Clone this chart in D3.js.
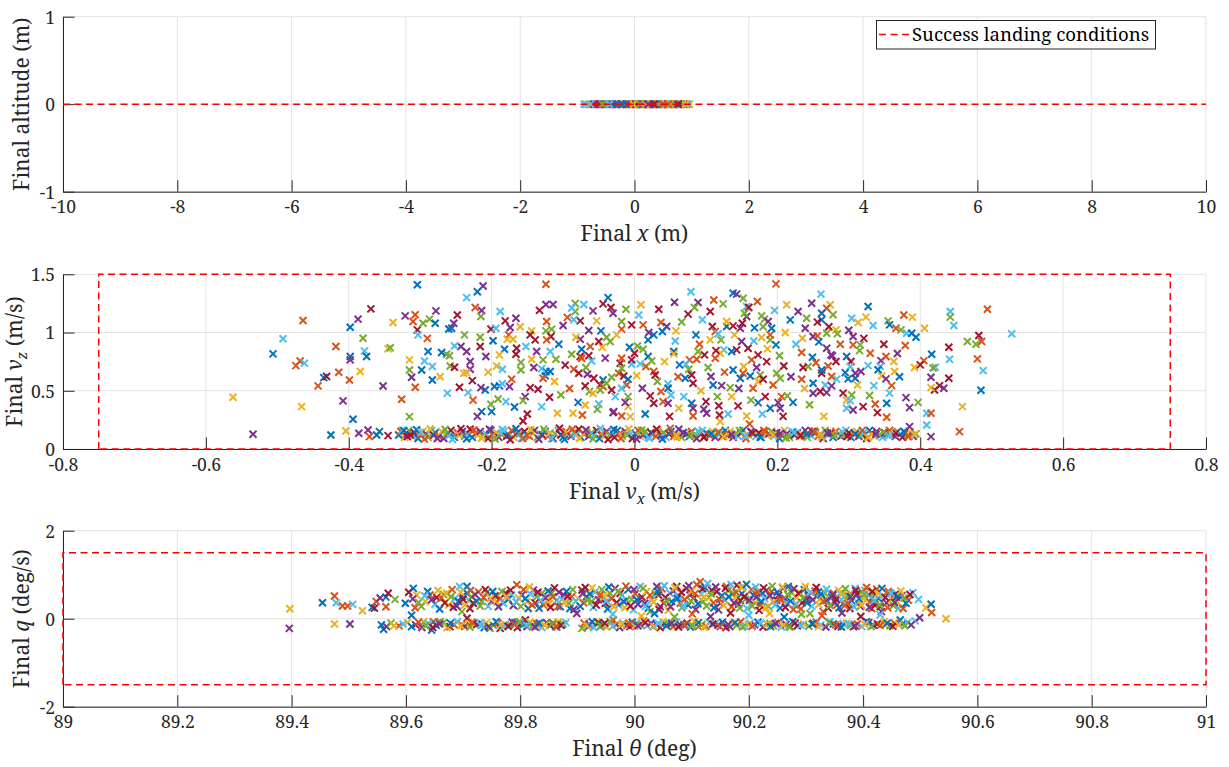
<!DOCTYPE html>
<html><head><meta charset="utf-8">
<script src="https://cdn.jsdelivr.net/npm/d3@7"></script>
<style>
body{margin:0;background:#fff;}
</style></head><body>
<svg id="fig" width="1229" height="767"></svg>
<script>
// ---------------- DATA ----------------
const seriesColors = ["#0072BD","#D95319","#EDB120","#7E2F8E","#77AC30","#4DBEEE","#A2142F"];

const xTicks1 = [-10,-8,-6,-4,-2,0,2,4,6,8,10];
const yTicks1 = [-1,0,1];
const xTicks2 = [-0.8,-0.6,-0.4,-0.2,0,0.2,0.4,0.6,0.8];
const yTicks2 = [0,0.5,1,1.5];
const xTicks3 = [89,89.2,89.4,89.6,89.8,90,90.2,90.4,90.6,90.8,91];
const yTicks3 = [-2,0,2];

const altitudeLimit = 0;
const vxLimits = [-0.75,0.75];
const vzLimits = [0,1.5];
const thetaLimits = [89,91];
const qLimits = [-1.5,1.5];

const finalX = [0.12,-0.41,0.96,0.33,-0.07,-0.88,0.58,-0.23,0.71,-0.62,0.05,0.44,-0.35,0.87,-0.15,0.26,-0.74,0.63,-0.02,-0.51,0.39,0.91,-0.29,0.17,-0.68,0.52,-0.11,0.78,-0.45,0.30,-0.81,0.08,0.67,-0.19,0.48,-0.57,0.22,0.83,-0.33,-0.04,0.55,-0.71,0.36,-0.25,0.74,0.14,-0.48,0.93,-0.60,0.27,-0.09,0.61,-0.38,0.42,-0.77,0.01,0.80,-0.53,0.19,-0.14,0.69,-0.85,0.34,-0.31,0.50,0.89,-0.64,0.10,-0.44,0.76,-0.21,0.59,-0.02,0.24,-0.56];

const vPoints = [
[-0.562,0.444,2],[-0.534,0.126,3],[-0.506,0.817,0],[-0.492,0.946,5],[-0.464,1.103,1],[-0.474,0.716,1],[-0.468,0.756,1],[-0.462,0.737,5],[-0.466,0.364,2],[-0.443,0.542,1],[-0.435,0.613,0],[-0.431,0.622,6],[-0.425,0.120,0],[-0.418,0.880,1],[-0.414,0.659,1],[-0.408,0.413,3],[-0.404,0.155,2],[-0.398,1.046,0],[-0.398,0.794,0],[-0.398,0.765,3],[-0.399,0.593,1],[-0.394,0.255,0],[-0.386,0.135,3],[-0.387,1.115,3],[-0.380,0.951,4],[-0.378,0.842,5],[-0.375,0.794,0],[-0.384,0.665,2],[-0.373,0.163,3],[-0.371,0.106,1],[-0.369,1.203,6],[-0.361,0.120,0],[-0.357,0.149,0],[-0.352,0.541,3],[-0.345,0.115,6],[-0.338,1.086,2],[-0.345,0.860,2],[-0.342,0.870,4],
[-0.321,1.143,3],[-0.307,1.152,1],[-0.310,1.095,1],[-0.304,1.023,6],[-0.303,0.98,5],[-0.296,1.080,4],[-0.287,1.115,4],[-0.278,1.186,3],[-0.279,1.080,0],[-0.260,1.031,0],[-0.256,1.037,0],[-0.253,1.080,3],[-0.223,1.215,1],[-0.214,1.189,3],[-0.215,1.138,4],[-0.201,1.029,6],[-0.194,1.037,5],[-0.181,1.10,6],[-0.166,1.123,3],[-0.174,1.043,3],[-0.176,0.98,1],[-0.170,0.943,2],[-0.178,0.943,2],[-0.165,0.865,6],[-0.166,0.814,6],[-0.182,0.857,0],[-0.189,0.808,2],[-0.193,0.713,2],[-0.185,0.685,5],[-0.144,1.014,2],[-0.146,0.98,6],[-0.139,0.937,6],[-0.124,1.014,4],[-0.116,1.029,4],[-0.117,0.966,6],[-0.123,0.937,1],[-0.123,1.095,1],[-0.137,0.837,3],[-0.144,0.771,2],[-0.159,0.742,4],[-0.159,0.679,4],[-0.128,0.765,4],[-0.118,0.837,5],[-0.110,0.771,4],[-0.124,0.665,0],[-0.118,0.665,0],[-0.130,0.69,5],[-0.125,0.628,0],[-0.128,0.607,1],[-0.135,0.513,6],[-0.146,0.527,6],[-0.153,0.450,3],[-0.156,0.415,4],[-0.119,0.444,6],[-0.103,0.464,4],[-0.130,0.364,5],[-0.108,0.307,2],[-0.086,0.307,2],[-0.073,0.292,1],[-0.069,0.378,2],[-0.050,0.387,5],[-0.030,0.312,6],[-0.156,0.241,6],[-0.180,0.407,5],[-0.191,0.43,4],[-0.201,0.384,4],[-0.209,0.507,0],[-0.215,0.527,3],[-0.200,0.321,0],[-0.214,0.321,0],[-0.233,0.484,5],[-0.227,0.587,6],[-0.230,0.685,3],[-0.235,0.656,2],[-0.239,0.650,2],[-0.230,0.751,3],[-0.235,0.837,3],[-0.243,0.880,3],[-0.252,0.885,5],[-0.263,0.814,4],[-0.259,0.80,4],[-0.270,0.828,0],[-0.258,0.713,4],[-0.252,0.702,6],[-0.245,0.53,6],[-0.216,0.96,4],[-0.216,0.88,6],[-0.208,0.794,3],[-0.189,0.542,0],[-0.196,0.536,0],[-0.175,0.536,3],[-0.185,0.56,5],[-0.283,0.708,5],[-0.298,0.679,0],[-0.315,0.679,4],[-0.315,0.765,2],[-0.312,0.616,3],[-0.307,0.530,1],[-0.294,0.756,5],[-0.289,0.837,0],[-0.283,0.593,0],[-0.326,0.427,1],[-0.315,0.278,4],[-0.323,0.158,0],[-0.318,0.106,6],[-0.299,0.143,5],
[-0.304,1.41,0],[-0.212,1.40,3],[-0.220,1.35,0],[-0.235,1.30,5],[-0.124,1.415,1],[-0.124,1.24,3],[-0.114,1.24,3],[-0.083,1.25,4],[-0.083,1.18,4],[-0.088,1.21,5],[-0.044,1.246,6],[-0.033,1.215,6],[-0.030,1.166,3],[-0.058,1.186,3],[-0.094,1.13,1],[-0.076,1.10,6],[-0.085,1.11,5],[0.009,1.238,2],[0.056,1.26,3],[0.079,1.35,5],[0.089,1.258,3],[0.084,1.215,4],[0.075,1.158,6],[0.106,1.18,6],[0.124,1.246,4],[0.138,1.338,0],[0.143,1.33,3],[0.152,1.295,4],[0.172,1.266,1],[0.198,1.418,1],[0.213,1.238,2],[0.218,1.109,0],[0.157,1.223,5],[0.160,1.215,6],[0.157,1.138,3],[0.154,1.166,4],[0.178,1.143,4],[0.182,1.115,4],[0.187,1.095,3],[0.192,1.037,0],[0.180,1.05,4],[0.138,1.057,6],[0.129,1.052,0],[0.148,1.037,3],[0.109,1.052,6],[0.113,1.009,1],[0.117,0.989,5],[0.106,0.937,2],[0.121,0.937,4],[0.129,1.095,2],[0.037,1.086,1],[0.045,1.052,3],[0.039,1.009,0],[0.027,0.98,0],[0.019,0.937,0],[0.058,1.014,2],[0.057,0.928,5],[0.055,0.837,0],[0.055,0.817,2],[0.077,0.765,1],[0.087,0.771,1],[0.089,0.837,4],[0.091,0.90,1],[0.072,0.728,5],[0.063,0.722,0],[0.076,0.685,4],[0.080,0.636,6],[0.071,0.607,0],[0.082,0.564,6],[0.047,0.559,5],[0.047,0.521,0],[0.051,0.464,5],[0.037,0.493,1],[0.027,0.665,1],[0.029,0.636,6],[0.016,0.708,1],[0.008,0.731,5],[-0.004,0.728,5],[-0.004,0.765,6],[0.000,0.822,6],[-0.007,0.874,0],[0.004,0.885,4],[0.012,0.857,4],[0.019,0.794,0],[0.024,0.756,4],[-0.004,1.066,6],[0.012,1.066,1],[-0.018,1.095,4],[-0.018,1.029,1],[-0.047,1.014,0],[-0.064,1.017,3],[-0.039,0.96,4],[-0.034,0.923,4],[-0.045,0.874,2],[-0.050,0.923,6],[-0.076,0.943,3],[-0.074,0.857,0],[-0.088,0.814,4],[-0.076,0.794,6],[-0.064,0.80,6],[-0.074,0.779,1],[-0.060,0.756,5],[-0.085,0.685,1],[-0.078,0.650,6],[-0.066,0.642,3],[-0.057,0.607,6],[-0.044,0.593,0],[-0.048,0.55,6],[-0.044,0.536,1],[-0.039,0.564,4],[-0.032,0.616,4],[-0.022,0.650,1],[-0.020,0.736,6],[-0.018,0.779,1],[-0.018,0.693,4],[-0.015,0.627,6],[-0.009,0.599,0],[-0.011,0.55,1],[-0.018,0.521,5],[-0.032,0.507,6],[-0.048,0.507,4],[-0.069,0.541,6],[-0.063,0.493,4],[-0.058,0.478,2],[-0.009,0.450,4],[-0.009,0.364,2],[-0.029,0.321,3],[-0.018,0.284,1],[-0.006,0.278,2],[0.011,0.521,3],[0.022,0.456,6],[0.027,0.393,6],[0.040,0.407,1],[0.047,0.393,3],[0.062,0.35,2],[0.080,0.393,0],[0.082,0.35,3],[0.082,0.284,1],[0.100,0.407,6],[0.097,0.341,3],[0.101,0.307,3],[0.118,0.372,6],[0.120,0.235,2],[0.119,0.292,6],[0.107,0.622,3],[0.110,0.55,0],[0.122,0.544,3],[0.134,0.527,4],[0.136,0.45,2],[0.145,0.37,6],[0.157,0.284,2],[0.161,0.215,1],[0.166,0.521,1],[0.173,0.579,2],[0.176,0.636,4],[0.180,0.599,6],[0.183,0.45,6],[0.173,0.398,0],[0.190,0.35,0],[0.201,0.398,3],[0.204,0.35,3],[0.206,0.45,1],[0.214,0.456,4],[0.199,0.65,4],[0.204,0.607,4],[0.209,0.713,6],[0.185,0.75,6],[0.173,0.808,6],[0.164,0.765,1],[0.153,0.708,2],[0.152,0.65,1],[0.148,0.607,0],[0.138,0.679,0],[0.162,0.627,0],[0.159,0.865,6],[0.150,0.923,3],[0.167,0.928,5],[0.178,0.957,2],[0.190,0.937,4],[0.190,0.98,1],[0.198,0.894,0],[0.143,0.851,6],[0.136,0.837,0],[0.125,0.851,5],[0.120,0.822,2],[0.114,0.845,6],[0.113,0.779,1],[0.098,0.808,6],
[0.261,1.330,5],[0.248,1.252,3],[0.274,1.238,2],[0.269,1.209,1],[0.278,1.152,4],[0.262,1.166,0],[0.262,1.109,0],[0.256,1.089,6],[0.241,1.123,4],[0.239,1.037,3],[0.235,0.951,2],[0.250,0.966,3],[0.256,0.971,1],[0.269,0.994,4],[0.282,1.023,2],[0.284,0.989,4],[0.304,1.123,5],[0.313,1.086,2],[0.324,1.132,2],[0.327,1.223,0],[0.306,0.966,3],[0.306,0.894,1],[0.316,0.894,4],[0.315,0.845,4],[0.330,0.822,1],[0.355,1.10,4],[0.357,1.066,0],[0.366,1.037,1],[0.373,1.023,4],[0.381,0.994,5],[0.388,0.994,0],[0.394,0.96,0],[0.389,1.132,2],[0.406,1.037,2],[0.379,0.888,1],[0.269,0.865,3],[0.275,0.808,3],[0.277,0.80,3],[0.271,0.713,1],[0.276,0.622,1],[0.262,0.650,6],[0.262,0.679,0],[0.282,0.751,6],[0.297,0.794,0],[0.303,0.751,6],[0.302,0.708,5],[0.295,0.656,0],[0.299,0.602,0],[0.309,0.607,0],[0.309,0.650,3],[0.317,0.665,3],[0.327,0.716,5],[0.345,0.759,3],[0.352,0.794,1],[0.344,0.708,5],[0.346,0.628,2],[0.352,0.602,3],[0.363,0.751,2],[0.364,0.665,2],[0.360,0.544,1],[0.335,0.544,5],[0.249,0.788,0],[0.234,0.828,1],[0.243,0.708,4],[0.236,0.70,6],[0.234,0.599,1],[0.250,0.564,0],[0.267,0.55,5],[0.276,0.542,3],[0.260,0.493,6],[0.250,0.479,3],[0.269,0.484,3],[0.304,0.464,4],[0.297,0.421,2],[0.302,0.415,5],[0.297,0.35,5],[0.306,0.335,3],[0.320,0.364,6],[0.337,0.387,1],[0.340,0.312,6],[0.353,0.393,0],[0.353,0.272,1],[0.380,0.441,3],[0.385,0.355,3],[0.385,0.192,3],[0.409,0.307,5],[0.415,0.307,1],[0.409,0.206,5],[0.415,0.106,3],[0.416,0.814,0],[0.405,0.759,1],[0.400,0.722,6],[0.421,0.702,5],[0.418,0.695,4],[0.415,0.616,3],[0.420,0.507,6],[0.415,0.527,2],[0.427,0.544,6],[0.433,0.521,3],[0.440,0.874,6],[0.441,0.771,5],[0.440,0.607,6],[0.442,1.18,5],[0.442,1.132,4],[0.447,1.060,5],[0.459,0.364,2],[0.455,0.149,1],[0.466,0.923,4],[0.478,0.90,4],[0.486,0.923,1],[0.482,0.974,6],[0.480,0.774,1],[0.488,0.673,5],[0.485,0.504,0],[0.494,1.20,1],[0.528,0.989,5],
[-0.290,0.95,1],[-0.272,0.62,2],[-0.262,0.48,5],[-0.248,1.15,6],[-0.238,0.98,4],[-0.226,0.42,1],[-0.220,0.28,3],[-0.205,0.66,2],[-0.198,0.93,0],[-0.188,1.18,5],[-0.172,0.60,1],[-0.168,0.36,0],[-0.160,1.05,2],[-0.152,0.88,5],[-0.150,0.30,6],[-0.141,0.70,3],[-0.133,1.19,6],[-0.112,0.58,2],[-0.106,0.90,0],[-0.100,1.06,3],[-0.097,0.72,6],[-0.091,0.52,1],[-0.082,0.96,2],[-0.079,0.40,0],[-0.071,1.24,5],[-0.068,0.70,4],[-0.062,0.88,1],[-0.053,1.10,2],[-0.052,0.34,4],[-0.041,0.78,3],[-0.037,1.30,0],[-0.027,0.45,5],[-0.025,0.98,2],[-0.012,1.20,4],[-0.013,0.40,3],[0.003,0.63,2],[0.006,1.15,5],[0.015,0.30,0],[0.020,1.00,3],[0.032,0.58,4],[0.034,1.20,6],[0.042,0.75,2],[0.049,0.28,6],[0.061,0.62,1],[0.066,1.09,4],[0.069,0.45,5],[0.086,0.98,0],[0.093,0.50,2],[0.095,1.11,5],[0.103,0.70,4],[0.111,1.28,1],[0.116,0.45,4],[0.126,0.66,1],[0.131,0.30,5],[0.140,0.98,2],[0.146,0.52,3],[0.151,1.08,6],[0.163,0.42,4],[0.168,1.04,0],[0.171,0.70,3],[0.179,0.30,5],[0.186,0.86,2],[0.194,0.55,1],[0.196,1.19,5],[0.203,0.80,4],[0.208,0.28,6],[0.211,1.00,2],[0.219,0.62,3],[0.222,0.40,0],[0.226,0.90,5],[0.229,1.18,3],[0.238,0.52,2],[0.245,0.38,4],[0.254,0.74,1],[0.258,0.92,0],[0.265,0.28,2],[0.272,1.05,6],[0.283,0.60,5],[0.288,0.90,1],[0.292,0.48,6],[0.300,1.02,3],[0.312,0.55,2],[0.321,0.95,6],[0.329,0.46,4],[0.334,1.06,5],[0.341,0.68,0],[0.349,0.90,6],[0.357,0.48,5],[0.368,0.82,3],[0.371,0.62,0],[0.377,1.15,1],[0.392,0.70,2],[0.397,0.40,4]
];

const bandVx = [-0.330,-0.327,-0.322,-0.318,-0.316,-0.311,-0.308,-0.303,-0.300,-0.296,-0.292,-0.289,-0.284,-0.281,-0.279,-0.274,-0.270,-0.267,-0.263,-0.259,-0.257,-0.252,-0.248,-0.245,-0.241,-0.238,-0.233,-0.230,-0.227,-0.222,-0.219,-0.216,-0.212,-0.208,-0.205,-0.201,-0.198,-0.193,-0.190,-0.187,-0.183,-0.179,-0.176,-0.172,-0.169,-0.164,-0.161,-0.158,-0.154,-0.150,-0.147,-0.143,-0.140,-0.136,-0.132,-0.129,-0.125,-0.121,-0.118,-0.114,-0.111,-0.107,-0.103,-0.100,-0.096,-0.093,-0.089,-0.085,-0.082,-0.078,-0.075,-0.071,-0.067,-0.064,-0.060,-0.057,-0.053,-0.049,-0.046,-0.042,-0.039,-0.035,-0.031,-0.028,-0.024,-0.021,-0.017,-0.013,-0.010,-0.006,-0.003,0.001,0.005,0.008,0.012,0.015,0.019,0.023,0.026,0.030,0.033,0.037,0.041,0.044,0.048,0.051,0.055,0.059,0.062,0.066,0.069,0.073,0.077,0.080,0.084,0.087,0.091,0.095,0.098,0.102,0.105,0.109,0.113,0.116,0.120,0.123,0.127,0.131,0.134,0.138,0.141,0.145,0.149,0.152,0.156,0.159,0.163,0.167,0.170,0.174,0.177,0.181,0.185,0.188,0.192,0.195,0.199,0.203,0.206,0.210,0.213,0.217,0.221,0.224,0.228,0.231,0.235,0.239,0.242,0.246,0.249,0.253,0.257,0.260,0.264,0.267,0.271,0.275,0.278,0.282,0.285,0.289,0.293,0.296,0.300,0.303,0.307,0.311,0.314,0.318,0.321,0.325,0.329,0.332,0.336,0.339,0.343,0.347,0.350,0.354,0.357,0.361,0.365,0.368,0.372,0.375,0.379,0.383,0.386,0.390,0.394,
-0.325,-0.314,-0.305,-0.294,-0.286,-0.276,-0.265,-0.255,-0.243,-0.235,-0.225,-0.214,-0.203,-0.195,-0.185,-0.174,-0.166,-0.156,-0.145,-0.134,-0.127,-0.116,-0.105,-0.098,-0.087,-0.077,-0.068,-0.058,-0.048,-0.037,-0.029,-0.019,-0.008,0.003,0.010,0.021,0.031,0.039,0.050,0.060,0.068,0.079,0.089,0.097,0.107,0.118,0.125,0.136,0.147,0.155,0.165,0.176,0.183,0.194,0.204,0.212,0.223,0.233,0.241,0.252,0.262,0.270,0.280,0.291,0.298,0.309,0.319,0.327,0.338,0.348,0.356,0.366,0.377,0.384,0.392];
const bandVz = [0.12,0.15,0.10,0.13,0.16,0.11,0.14,0.09,0.12,0.15,0.13,0.10,0.16,0.12,0.14,0.11,0.15,0.09,0.13,0.12,0.16,0.10,0.14,0.12,0.15,0.11,0.13,0.17,0.10,0.14,0.12,0.15,0.11,0.13,0.09,0.16,0.12,0.14,0.10,0.13,0.15,0.11,0.12,0.16,0.10,0.14,0.13,0.09,0.15,0.12,0.11,0.14,0.16,0.10,0.13,0.12,0.15,0.11,0.14,0.09,0.13,0.16,0.12,0.10,0.15,0.13,0.11,0.14,0.12,0.17,0.10,0.13,0.15,0.11,0.14,0.12,0.16,0.09,0.13,0.11,0.15,0.12,0.14,0.10,0.16,0.13,0.11,0.15,0.12,0.14,0.09,0.13,0.16,0.11,0.12,0.15,0.10,0.14,0.13,0.11,0.16,0.12,0.14,0.10,0.13,0.15,0.11,0.12,0.17,0.10,0.14,0.13,0.11,0.15,0.12,0.09,0.14,0.16,0.11,0.13,0.12,0.15,0.10,0.14,0.13,0.11,0.16,0.12,0.15,0.10,0.13,0.11,0.14,0.16,0.09,0.12,0.15,0.13,0.11,0.14,0.10,0.16,0.12,0.13,0.15,0.11,0.14,0.09,0.12,0.16,0.13,0.10,0.15,0.12,0.14,0.11,0.13,0.16,0.10,0.12,0.15,0.14,0.11,0.13,0.09,0.16,0.12,0.14,0.10,0.15,0.13,0.11,0.12,0.16,0.14,0.10,0.13,0.15,0.11,0.12,0.14,0.09,0.16,0.13,0.11,0.15,0.12,0.10,0.14,0.13,0.16,0.12,0.11,0.15,0.13,0.10,0.14,0.12,0.15,0.11,0.13,0.16,0.12,
0.165,0.085,0.172,0.090,0.168,0.082,0.175,0.088,0.163,0.092,0.170,0.086,0.167,0.080,0.174,0.091,0.166,0.084,0.171,0.089,0.178,0.083,0.169,0.093,0.164,0.087,0.176,0.081,0.168,0.090,0.173,0.085,0.162,0.092,0.170,0.086,0.177,0.105,0.140,0.118,0.152,0.098,0.131,0.145,0.108,0.125,0.158,0.112,0.137,0.102,0.149,0.121,0.133,0.095,0.142,0.116,0.128,0.155,0.104,0.138,0.119,0.147,0.110,0.132,0.160,0.099,0.126,0.143,0.114,0.136,0.151,0.107,0.124,0.139,0.097,0.130];

const thetaQPoints = [
[89.397,0.227,2],[89.396,-0.22,3],[89.454,0.364,0],[89.475,0.516,1],[89.478,0.364,5],[89.475,-0.12,2],[89.489,0.288,1],[89.498,0.288,1],[89.507,0.326,5],[89.502,-0.12,3],[89.524,0.182,2],[89.541,0.258,0],[89.545,0.24,6],[89.548,0.394,1],[89.557,-0.14,0],[89.561,-0.24,0],[89.566,-0.18,3],[89.555,0.47,3],[89.565,0.49,0],[89.569,0.58,6],[89.565,0.27,1],[89.581,0.44,4],
[89.599,0.35,0],[89.610,0.08,0],[89.613,0.69,0],[89.619,0.54,2],[89.634,0.39,2],[89.631,-0.07,2],[89.645,-0.26,0],[89.648,-0.07,1],[89.660,-0.07,4],[89.642,0.54,1],[89.654,0.48,6],[89.666,0.55,4],[89.675,0.31,2],[89.677,-0.18,6],[89.686,0.46,5],[89.694,0.73,5],[89.698,0.50,3],[89.707,0.73,0],[89.707,0.58,0],[89.710,0.42,5],[89.715,0.50,4],[89.718,0.35,6],[89.712,0.23,6],[89.698,0.16,4],[89.707,0.01,6],[89.698,-0.14,1],[89.710,-0.11,2],[89.718,-0.11,3],[89.730,-0.09,5],[89.727,0.61,1],[89.742,0.60,4],[89.733,0.39,4],[89.747,-0.22,4],[89.750,0.39,3],[89.759,0.39,2],[89.765,0.46,1],[89.771,0.35,5],[89.765,-0.22,6],[89.774,-0.14,5],[89.782,-0.14,4],[89.774,0.58,6],[89.785,0.54,5],[89.794,0.77,1],[89.791,-0.09,0],[89.800,-0.11,5],[89.809,-0.03,6],[89.812,-0.18,6],[89.803,0.54,3],[89.812,0.39,2],[89.814,0.23,0],[89.823,0.65,3],[89.829,0.50,4],[89.823,-0.14,1],[89.835,-0.11,5],[89.841,0.31,1],[89.847,0.42,2],[89.855,0.58,4],[89.858,-0.11,3],[89.870,-0.14,5],[89.864,0.42,5],[89.870,0.27,0],[89.876,0.54,3],[89.890,0.50,1],[89.887,0.23,0],[89.899,0.12,3],[89.908,0.65,6],[89.908,-0.22,4],[89.919,-0.18,0],[89.916,0.50,0],[89.925,0.39,4],[89.931,0.61,5],[89.934,-0.07,2],[89.940,-0.18,1],[89.949,0.35,6],[89.957,0.58,4],[89.963,-0.03,1],[89.972,0.31,5],[89.975,0.58,6],[89.986,0.42,4],[89.992,-0.18,3],[89.998,0.20,5],[90.004,-0.11,5],[90.010,0.73,5],[90.018,0.35,3],[90.027,0.16,4],[90.033,-0.18,6],[90.039,0.73,3],[90.042,0.54,6],[90.051,0.35,1],[90.056,-0.11,4],[90.062,0.58,5],[90.074,0.73,6],[90.080,0.35,1],[90.086,-0.14,0],[90.091,0.69,6],[90.097,0.54,3],[90.109,0.77,1],[90.112,-0.18,1],[90.115,0.84,1],[90.120,0.39,4],[90.135,0.65,6],[90.141,-0.11,5],[90.150,0.35,3],[90.161,0.73,1],[90.167,-0.18,3],[90.173,0.58,4],[90.185,0.42,6],[90.190,0.73,5],[90.202,-0.11,5],[90.208,0.54,0],[90.220,0.31,1],[90.231,0.65,1],[90.237,-0.11,4],[90.249,0.42,3],[90.260,0.69,3],[90.269,0.73,0],[90.272,-0.18,6],[90.281,0.31,1],
[90.290,0.58,2],[90.301,0.42,6],[90.307,0.12,4],[90.313,-0.11,6],[90.319,0.50,4],[90.322,0.61,0],[90.330,0.16,1],[90.336,0.42,3],[90.342,-0.07,5],[90.348,0.58,1],[90.354,0.31,1],[90.360,0.58,5],[90.365,-0.11,5],[90.371,0.54,2],[90.377,0.23,6],[90.383,-0.18,6],[90.386,0.69,5],[90.392,0.35,2],[90.398,0.61,4],[90.403,0.64,5],[90.406,-0.07,0],[90.415,0.46,0],[90.415,0.23,1],[90.424,0.67,1],[90.430,0.27,3],[90.432,0.16,3],[90.438,-0.14,2],[90.446,0.58,4],[90.456,0.55,6],[90.459,0.39,2],[90.462,0.23,5],[90.465,-0.03,0],[90.470,-0.11,0],[90.470,0.23,1],[90.479,0.42,1],[90.487,0.59,5],[90.497,0.44,5],[90.491,-0.05,5],[90.499,0.02,3],[90.510,0.25,2],[90.519,0.33,0],[90.520,0.14,1],[90.545,0.00,2],
[89.612,0.45,3],[89.627,0.28,4],[89.638,0.62,0],[89.651,0.33,5],[89.662,0.47,1],[89.671,0.58,2],[89.683,0.26,6],[89.692,0.39,0],[89.703,0.31,2],[89.721,0.55,3],[89.736,0.48,1],[89.744,0.28,5],[89.756,0.52,6],[89.768,0.62,4],[89.779,0.44,0],[89.788,0.30,3],[89.797,0.47,2],[89.806,0.66,1],[89.818,0.56,5],[89.826,0.36,6],[89.833,0.24,0],[89.838,0.58,4],[89.844,0.47,3],[89.851,0.34,2],[89.860,0.70,6],[89.866,0.28,1],[89.873,0.44,5],[89.881,0.62,0],[89.885,0.35,4],[89.894,0.21,3],[89.902,0.45,2],[89.911,0.36,1],[89.914,0.71,6],[89.922,0.56,0],[89.928,0.26,5],[89.937,0.43,3],[89.943,0.66,4],[89.946,0.51,2],[89.953,0.22,0],[89.960,0.46,1],[89.966,0.69,3],[89.969,0.37,6],[89.978,0.53,5],[89.983,0.25,2],[89.989,0.66,0],[89.995,0.44,4],[90.001,0.57,1],[90.006,0.33,3],[90.013,0.49,6],[90.021,0.62,2],[90.024,0.24,0],[90.030,0.43,5],[90.036,0.57,4],[90.045,0.27,3],[90.048,0.68,1],[90.054,0.48,6],[90.059,0.19,2],[90.065,0.39,0],[90.068,0.63,3],[90.077,0.51,5],[90.083,0.25,4],[90.088,0.44,1],[90.094,0.31,0],[90.100,0.63,2],[90.104,0.47,6],[90.107,0.21,3],[90.117,0.56,5],[90.123,0.71,0],[90.126,0.29,4],[90.131,0.48,2],[90.138,0.36,1],[90.144,0.61,6],[90.147,0.20,3],[90.153,0.52,0],[90.158,0.42,5],[90.164,0.64,4],[90.170,0.27,1],[90.176,0.47,2],[90.179,0.76,6],[90.182,0.33,3],[90.188,0.57,0],[90.194,0.44,4],[90.197,0.23,5],[90.205,0.66,1],[90.211,0.36,2],[90.214,0.50,3],[90.218,0.19,6],[90.224,0.58,0],[90.228,0.45,5],[90.234,0.28,4],[90.240,0.62,1],[90.243,0.38,2],[90.252,0.53,6],[90.255,0.24,0],[90.263,0.46,3],[90.266,0.35,5],[90.275,0.59,4],[90.278,0.21,1],[90.284,0.48,2],[90.293,0.36,6],[90.297,0.66,0],[90.304,0.52,3],[90.310,0.28,5],[90.316,0.63,1],[90.325,0.45,2],[90.333,0.58,4],[90.339,0.24,6],[90.345,0.49,0],[90.351,0.37,3],[90.357,0.65,2],[90.362,0.43,5],[90.368,0.30,1],[90.374,0.52,4],[90.380,0.41,0],[90.389,0.56,6],[90.395,0.28,3],[90.400,0.46,2],[90.409,0.54,5],[90.412,0.38,1],[90.418,0.58,4],[90.421,0.31,6],[90.427,0.46,0],[90.435,0.52,5],[90.441,0.36,3],[90.444,0.62,1],[90.450,0.44,2],[90.453,0.30,4],[90.458,0.49,6],[90.468,0.52,3],[90.475,0.35,0],
[89.605,0.60,6],[89.616,0.25,1],[89.622,0.37,4],[89.633,0.52,5],[89.645,0.43,3],[89.656,0.64,2],[89.659,0.22,0],[89.668,0.36,6],[89.679,0.50,4],[89.681,0.66,1],[89.689,0.29,3],[89.696,0.60,2],[89.700,0.44,6],[89.713,0.64,1],[89.724,0.40,0],[89.730,0.29,4],[89.739,0.66,6],[89.748,0.46,2],[89.752,0.62,0],[89.762,0.27,3],[89.776,0.50,2],[89.783,0.65,6],[89.793,0.38,5],[89.801,0.28,4],[89.809,0.46,0],[89.816,0.72,2],[89.821,0.31,1],[89.831,0.60,6],[89.836,0.42,5],[89.849,0.63,0],[89.853,0.26,6],[89.857,0.50,1],[89.868,0.60,3],[89.878,0.36,2],[89.883,0.51,6],[89.892,0.66,4],[89.897,0.40,5],[89.905,0.28,0],[89.909,0.57,3],[89.918,0.42,4],[89.926,0.70,2],[89.933,0.31,6],[89.940,0.54,1],[89.951,0.40,5],[89.955,0.72,0],[89.964,0.27,2],[89.971,0.62,4],[89.981,0.39,0],[89.985,0.74,1],[89.993,0.29,6],[89.999,0.66,3],[90.004,0.43,0],[90.015,0.69,4],[90.019,0.28,5],[90.027,0.53,1],[90.033,0.38,2],[90.041,0.62,0],[90.043,0.21,6],[90.052,0.75,5],[90.057,0.40,4],[90.063,0.27,3],[90.071,0.70,2],[90.075,0.46,0],[90.082,0.60,6],[90.086,0.30,5],[90.095,0.75,3],[90.099,0.40,4],[90.106,0.57,1],[90.111,0.34,0],[90.119,0.68,6],[90.121,0.48,2],[90.128,0.80,5],[90.134,0.56,4],[90.139,0.25,0],[90.142,0.72,3],[90.149,0.44,1],[90.156,0.30,2],[90.159,0.69,6],[90.165,0.50,0],[90.169,0.78,5],[90.174,0.36,3],[90.178,0.60,1],[90.184,0.24,4],[90.187,0.71,2],[90.192,0.50,6],[90.196,0.78,0],[90.201,0.42,3],[90.206,0.29,4],[90.212,0.72,5],[90.216,0.60,1],[90.221,0.38,0],[90.226,0.70,6],[90.230,0.25,2],[90.237,0.52,3],[90.241,0.74,4],[90.246,0.31,5],[90.250,0.60,0],[90.256,0.43,1],[90.259,0.72,2],[90.264,0.26,6],[90.268,0.55,4],[90.273,0.40,0],[90.279,0.68,3],[90.283,0.33,5],[90.287,0.58,6],[90.291,0.22,1],[90.295,0.47,4],[90.299,0.73,2],[90.302,0.36,0],[90.308,0.60,5],[90.312,0.43,3],[90.318,0.71,6],[90.322,0.32,2],[90.327,0.56,0],[90.331,0.40,1],[90.336,0.67,5],[90.342,0.30,4],[90.347,0.54,3],[90.353,0.44,6],[90.358,0.25,0],[90.364,0.58,2],[90.369,0.68,4],[90.373,0.35,1],[90.378,0.50,3],[90.384,0.27,5],[90.387,0.64,6],[90.393,0.45,0],[90.397,0.31,2],[90.402,0.55,4],[90.406,0.71,1],[90.411,0.26,3],[90.416,0.62,6],[90.420,0.42,5],[90.426,0.57,2],[90.429,0.31,4],[90.433,0.69,0],[90.439,0.48,6],[90.443,0.25,1],[90.449,0.58,5],[90.455,0.37,3],[90.461,0.53,0],[90.466,0.63,2],[90.472,0.47,4],[90.482,0.55,6],
[89.574,-0.10,4],[89.588,-0.16,1],[89.603,-0.09,2],[89.617,-0.14,6],[89.628,-0.20,3],[89.639,-0.11,5],[89.653,-0.15,0],[89.666,-0.09,4],[89.672,-0.20,2],[89.684,-0.13,1],[89.690,-0.07,5],[89.703,-0.17,3],[89.724,-0.13,6],[89.737,-0.20,0],[89.741,-0.09,2],[89.753,-0.15,4],[89.761,-0.10,1],[89.770,-0.19,5],[89.786,-0.08,3],[89.795,-0.20,6],[89.805,-0.13,0],[89.817,-0.08,2],[89.821,-0.17,4],[89.829,-0.12,1],[89.838,-0.20,5],[89.846,-0.09,3],[89.852,-0.15,6],[89.862,-0.18,0],[89.867,-0.07,2],[89.875,-0.12,4],[89.912,-0.10,1],[89.922,-0.14,3],[89.929,-0.20,5],[89.937,-0.09,6],[89.945,-0.13,0],[89.951,-0.19,2],[89.957,-0.06,4],[89.968,-0.14,1],[89.974,-0.20,3],[89.980,-0.10,5],[89.987,-0.15,6],[89.996,-0.08,0],[90.001,-0.18,2],[90.010,-0.13,4],[90.016,-0.05,1],[90.022,-0.16,5],[90.029,-0.10,3],[90.039,-0.14,0],[90.045,-0.20,6],[90.050,-0.07,2],[90.061,-0.12,4],[90.068,-0.18,1],[90.073,-0.08,5],[90.080,-0.14,3],[90.092,-0.10,6],[90.098,-0.19,0],[90.105,-0.06,2],[90.118,-0.13,4],[90.125,-0.17,1],[90.131,-0.09,5],[90.146,-0.15,3],[90.154,-0.08,0],[90.160,-0.20,6],[90.172,-0.11,2],[90.179,-0.15,4],[90.186,-0.07,1],[90.193,-0.17,5],[90.210,-0.14,3],[90.216,-0.08,0],[90.225,-0.19,6],[90.232,-0.12,2],[90.243,-0.16,4],[90.251,-0.09,1],[90.257,-0.19,5],[90.265,-0.13,3],[90.277,-0.07,0],[90.285,-0.16,6],[90.296,-0.12,2],[90.305,-0.17,4],[90.318,-0.08,1],[90.326,-0.14,5],[90.335,-0.19,3],[90.348,-0.12,0],[90.356,-0.17,6],[90.371,-0.10,2],[90.378,-0.15,4],[90.390,-0.12,1],[90.398,-0.18,5],[90.410,-0.09,3],[90.418,-0.15,0],[90.425,-0.12,6],[90.437,-0.07,2],[90.447,-0.16,4],[90.455,-0.10,1],[90.478,-0.09,5],[90.484,-0.14,3],
[89.579,-0.16,2],[89.595,-0.12,5],[89.610,-0.18,0],[89.622,-0.08,1],[89.634,-0.16,4],[89.647,-0.20,6],[89.659,-0.12,3],[89.678,-0.10,0],[89.696,-0.16,2],[89.712,-0.19,4],[89.716,-0.08,1],[89.731,-0.15,5],[89.745,-0.18,3],[89.758,-0.07,0],[89.766,-0.14,2],[89.779,-0.17,6],[89.790,-0.13,1],[89.799,-0.07,4],[89.811,-0.15,5],[89.826,-0.19,3],[89.833,-0.10,0],[89.843,-0.15,2],[89.856,-0.11,4],[89.864,-0.19,1],[89.872,-0.15,6],[89.880,-0.09,5],[89.917,-0.16,2],[89.926,-0.07,0],[89.941,-0.16,4],[89.948,-0.10,6],[89.962,-0.17,5],[89.977,-0.13,2],[89.991,-0.11,1],[90.006,-0.16,3],[90.019,-0.09,6],[90.034,-0.18,2],[90.042,-0.11,5],[90.056,-0.16,0],[90.065,-0.10,3],[90.077,-0.19,6],[90.087,-0.13,1],[90.101,-0.15,4],[90.112,-0.09,0],[90.122,-0.19,2],[90.137,-0.12,6],[90.150,-0.18,1],[90.164,-0.13,3],[90.176,-0.09,0],[90.189,-0.19,4],[90.199,-0.13,2],[90.206,-0.17,1],[90.221,-0.10,5],[90.238,-0.18,0],[90.247,-0.11,3],[90.261,-0.15,2],[90.271,-0.19,4],[90.281,-0.10,6],[90.291,-0.15,5],[90.311,-0.12,0],[90.322,-0.18,2],[90.340,-0.09,4],[90.352,-0.14,1],[90.362,-0.19,0],[90.375,-0.12,5],[90.386,-0.16,3],[90.403,-0.13,2],[90.414,-0.18,4],[90.430,-0.15,1],[90.442,-0.10,0],[90.452,-0.17,6],[90.462,-0.13,2],[90.473,-0.16,4],
[89.962,0.10,5],[90.012,0.06,2],[90.035,0.12,0],[90.070,0.04,4],[90.101,0.11,1],[90.133,0.05,3],[90.168,0.13,6],[90.200,0.08,5],[90.236,0.12,2],[90.262,0.04,0],[90.292,0.10,4],[90.328,0.07,1],[90.363,0.13,3],[90.396,0.05,6],[90.430,0.09,5]
];

const legendLabel = "Success landing conditions";

// ---------------- DRAWING ----------------
const FONT = "'Noto Serif','Liberation Serif',serif";
const svg = d3.select("#fig").attr("font-family",FONT);
const L = 63, R = 1206;
const TICK = 11.5;
const axisColor = "#262626", gridColor = "#e3e3e3", red = "#ff0000";
const dash = "7,4.5";
const mk = 3.5;
const markerPath = `M${-mk},${-mk}L${mk},${mk}M${-mk},${mk}L${mk},${-mk}`;
const tickFont = 17.5, labelFont = 21;

const panels = [
  {top:16.7, bottom:191.7, xd:[-10,10], yd:[-1,1], xt:xTicks1, yt:yTicks1, ylx:29,
   xlab:[{t:"Final "},{t:"x",i:1},{t:" (m)"}], ylab:[{t:"Final altitude (m)"}]},
  {top:274.3, bottom:449, xd:[-0.8,0.8], yd:[0,1.5], xt:xTicks2, yt:yTicks2, ylx:21.7,
   xlab:[{t:"Final "},{t:"v",i:1},{t:"x",i:1,sub:1},{t:" (m/s)"}], ylab:[{t:"Final "},{t:"v",i:1},{t:"z",i:1,sub:1},{t:" (m/s)"}]},
  {top:530.7, bottom:706.7, xd:[89,91], yd:[-2,2], xt:xTicks3, yt:yTicks3, ylx:29,
   xlab:[{t:"Final "},{t:"θ",i:1},{t:" (deg)"}], ylab:[{t:"Final "},{t:"q",i:1},{t:" (deg/s)"}]}
];

function writeParts(textSel, parts){
  let shifted = false;
  parts.forEach(p=>{
    const ts = textSel.append("tspan").text(p.t);
    if(p.i) ts.attr("font-style","italic");
    if(p.sub){ ts.attr("font-size","0.7em").attr("dy",5); shifted = true; }
    else if(shifted){ ts.attr("dy",-5); shifted = false; }
  });
}

panels.forEach(p=>{
  p.x = d3.scaleLinear().domain(p.xd).range([L,R]);
  p.y = d3.scaleLinear().domain(p.yd).range([p.bottom,p.top]);
  const g = svg.append("g");
  g.append("g").selectAll("line").data(p.xt).join("line")
    .attr("x1",d=>p.x(d)).attr("x2",d=>p.x(d)).attr("y1",p.top).attr("y2",p.bottom)
    .attr("stroke",gridColor).attr("stroke-width",1);
  g.append("g").selectAll("line").data(p.yt).join("line")
    .attr("x1",L).attr("x2",R).attr("y1",d=>p.y(d)).attr("y2",d=>p.y(d))
    .attr("stroke",gridColor).attr("stroke-width",1);
  const ax = g.append("g").attr("transform",`translate(0,${p.bottom})`)
    .call(d3.axisBottom(p.x).tickValues(p.xt).tickSize(-TICK).tickSizeOuter(0).tickFormat(d=>String(d)));
  ax.selectAll("text").attr("y",21.5).attr("dy",null).attr("font-size",tickFont).attr("fill",axisColor);
  const ay = g.append("g").attr("transform",`translate(${L},0)`)
    .call(d3.axisLeft(p.y).tickValues(p.yt).tickSize(-TICK).tickSizeOuter(0).tickFormat(d=>String(d)));
  ay.selectAll("text").attr("x",-8).attr("dy","0.36em").attr("font-size",tickFont).attr("fill",axisColor);
  [ax,ay].forEach(a=>{
    a.attr("font-family",FONT).attr("font-size",null);
    a.select(".domain").attr("stroke",axisColor).attr("stroke-width",1);
    a.selectAll(".tick line").attr("stroke",axisColor).attr("stroke-width",1);
  });
  const xl = g.append("text").attr("x",(L+R)/2).attr("y",p.bottom+49.5)
    .attr("text-anchor","middle").attr("font-size",labelFont).attr("fill",axisColor);
  writeParts(xl,p.xlab);
  const yc = (p.top+p.bottom)/2;
  const yl = g.append("text").attr("x",p.ylx).attr("y",yc)
    .attr("transform",`rotate(-90,${p.ylx},${yc})`)
    .attr("text-anchor","middle").attr("font-size",labelFont).attr("fill",axisColor);
  writeParts(yl,p.ylab);
  p.g = g;
});

function drawMarkers(g, data, fx, fy, fc){
  g.append("g").selectAll("path").data(data).join("path")
    .attr("d",markerPath)
    .attr("transform",(d,i)=>`translate(${fx(d,i)},${fy(d,i)})`)
    .attr("fill","none")
    .attr("stroke",(d,i)=>seriesColors[fc(d,i)])
    .attr("stroke-width",2);
}

const P1 = panels[0];
drawMarkers(P1.g, finalX, d=>P1.x(d), ()=>P1.y(altitudeLimit), (d,i)=>i%7);
P1.g.append("line").attr("x1",P1.x(-10)).attr("x2",P1.x(10))
  .attr("y1",P1.y(altitudeLimit)).attr("y2",P1.y(altitudeLimit))
  .attr("stroke",red).attr("stroke-width",1.5).attr("stroke-dasharray",dash);

const P2 = panels[1];
const bandN = Math.min(bandVx.length,bandVz.length);
drawMarkers(P2.g, d3.range(bandN), i=>P2.x(bandVx[i]), i=>P2.y(bandVz[i]), i=>i%7);
drawMarkers(P2.g, vPoints, d=>P2.x(d[0]), d=>P2.y(d[1]), d=>d[2]);
const box2 = [[vxLimits[0],vzLimits[0]],[vxLimits[0],vzLimits[1]],[vxLimits[1],vzLimits[1]],[vxLimits[1],vzLimits[0]],[vxLimits[0],vzLimits[0]]];
P2.g.append("path").attr("d",d3.line().x(d=>P2.x(d[0])).y(d=>P2.y(d[1]))(box2))
  .attr("fill","none").attr("stroke",red).attr("stroke-width",1.5).attr("stroke-dasharray",dash);

const P3 = panels[2];
drawMarkers(P3.g, thetaQPoints, d=>P3.x(d[0]), d=>P3.y(d[1]), d=>d[2]);
const box3 = [[thetaLimits[0],qLimits[0]],[thetaLimits[0],qLimits[1]],[thetaLimits[1],qLimits[1]],[thetaLimits[1],qLimits[0]],[thetaLimits[0],qLimits[0]]];
P3.g.append("path").attr("d",d3.line().x(d=>P3.x(d[0])).y(d=>P3.y(d[1]))(box3))
  .attr("fill","none").attr("stroke",red).attr("stroke-width",1.5).attr("stroke-dasharray",dash);

const lg = svg.append("g");
lg.append("rect").attr("x",876.5).attr("y",20.5).attr("width",279).attr("height",28.5)
  .attr("fill","#fff").attr("stroke",axisColor).attr("stroke-width",1);
lg.append("line").attr("x1",879).attr("x2",910).attr("y1",34.5).attr("y2",34.5)
  .attr("stroke",red).attr("stroke-width",1.5).attr("stroke-dasharray",dash);
lg.append("text").attr("x",912).attr("y",40.5).attr("font-size",18.6).attr("fill","#000").text(legendLabel);
</script></body></html>
